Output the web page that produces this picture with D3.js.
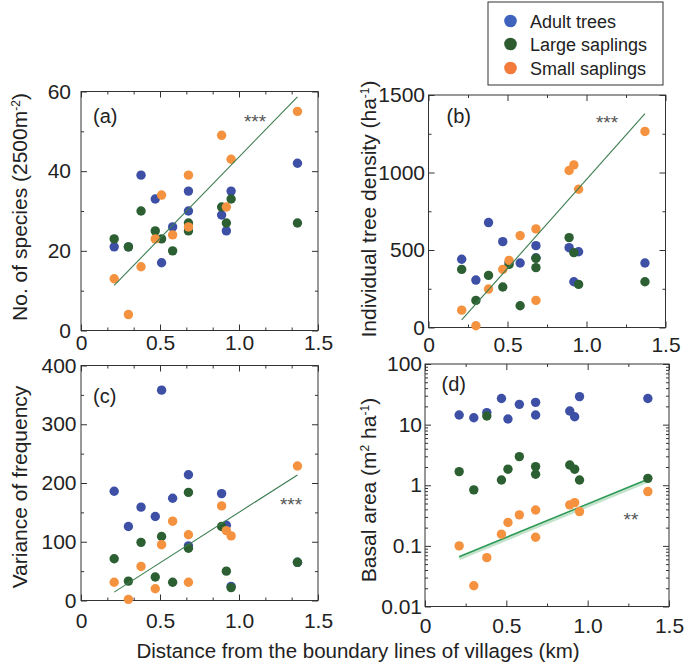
<!DOCTYPE html>
<html>
<head>
<meta charset="utf-8">
<script src="https://cdn.jsdelivr.net/npm/d3@7"></script>
<style>
  html, body { margin: 0; padding: 0; background: #fff; }
  svg text { font-family: "Liberation Sans", Arial, Helvetica, sans-serif; fill: #222; }
</style>
</head>
<body>
<svg id="chart" width="685" height="669"></svg>
<script>
// ---------------- DATA ----------------
const seriesNames = ["Adult trees", "Large saplings", "Small saplings"];
// distance from boundary lines of villages (km), one per site
const distanceKm = [0.21, 0.30, 0.38, 0.47, 0.51, 0.58, 0.68, 0.68, 0.89, 0.92, 0.95, 1.37];

// (a) No. of species (2500 m-2)
const speciesAdult = [21, 21, 39, 33, 17, 26, 35, 30, 29, 25, 35, 42];
const speciesLarge = [23, 21, 30, 25, 23, 20, 27, 25, 31, 27, 33, 27];
const speciesSmall = [13, 4, 16, 23, 34, 24, 39, 26, 49, 31, 43, 55];

// (b) Individual tree density (ha-1)
const densityAdult = [440, 306, 677, 554, 420, 416, 528, 450, 515, 295, 489, 416];
const densityLarge = [375, 175, 336, 261, 407, 140, 446, 386, 580, 483, 278, 295];
const densitySmall = [112, 11, 248, 375, 433, 593, 636, 175, 1013, 1049, 892, 1265];

// (c) Variance of frequency
const varianceAdult = [186, 126, 159, 143, 358, 174, 214, 93, 182, 128, 24, 65];
const varianceLarge = [71, 33, 99, 40, 109, 31, 184, 89, 126, 50, 22, 65];
const varianceSmall = [31, 2, 58, 20, 95, 135, 112, 31, 161, 119, 110, 229];

// (d) Basal area (m2 ha-1)
const basalAdult = [14.4, 13, 15.8, 27, 12.4, 21.6, 23.3, 14.4, 16.8, 13.5, 29, 27];
const basalLarge = [1.68, 0.84, 13.9, 1.22, 1.84, 2.97, 2.03, 1.52, 2.16, 1.84, 1.22, 1.30];
const basalSmall = [0.10, 0.022, 0.064, 0.156, 0.243, 0.325, 0.39, 0.139, 0.474, 0.517, 0.368, 0.787];

// tick labels
const xTicks = [0, 0.5, 1.0, 1.5];
const speciesTicks = [0, 20, 40, 60];
const densityTicks = [0, 500, 1000, 1500];
const varianceTicks = [0, 100, 200, 300, 400];
const basalTicks = [0.01, 0.1, 1, 10, 100];
const significance = ["***", "***", "***", "**"];
const panelLabels = ["(a)", "(b)", "(c)", "(d)"];

// ---------------- STYLE ----------------
const colors = ["#3d50a6", "#2c6033", "#f5923f"];
const legendColors = ["#3f62bd", "#2f5b31", "#f27b3b"];
const svg = d3.select("#chart");

function fit(xs, ys) {
  const n = xs.length;
  const mx = d3.mean(xs), my = d3.mean(ys);
  let sxy = 0, sxx = 0;
  for (let i = 0; i < n; i++) { sxy += (xs[i]-mx)*(ys[i]-my); sxx += (xs[i]-mx)*(xs[i]-mx); }
  const b = sxy / sxx;
  return { a: my - b*mx, b };
}

function panel(cfg) {
  const g = svg.append("g");
  const x = d3.scaleLinear().domain([0, 1.5]).range([cfg.x0, cfg.x1]);
  const y = (cfg.log ? d3.scaleLog() : d3.scaleLinear()).domain(cfg.yDomain).range([cfg.y0, cfg.y1]);

  const clean = s => s.select(".domain").remove();
  const style = s => { s.selectAll("line").attr("stroke", "#333"); s.selectAll("text").attr("font-size", 21).attr("fill", "#222"); };

  // x major / minor bottom
  g.append("g").attr("transform", `translate(0,${cfg.y0})`)
    .call(d3.axisBottom(x).tickValues(xTicks).tickSize(-6).tickPadding(cfg.xPad)
      .tickFormat(d => d === 0 ? "0" : d.toFixed(1)))
    .call(clean).call(style);
  g.append("g").attr("transform", `translate(0,${cfg.y0})`)
    .call(d3.axisBottom(x).tickValues(cfg.xMinor).tickSize(-3).tickFormat(""))
    .call(clean).call(style);
  // top mirror
  g.append("g").attr("transform", `translate(0,${cfg.y1})`)
    .call(d3.axisTop(x).tickValues(xTicks).tickSize(-6).tickFormat(""))
    .call(clean).call(style);
  g.append("g").attr("transform", `translate(0,${cfg.y1})`)
    .call(d3.axisTop(x).tickValues(cfg.xMinor).tickSize(-3).tickFormat(""))
    .call(clean).call(style);
  // y left
  g.append("g").attr("transform", `translate(${cfg.x0},0)`)
    .call(d3.axisLeft(y).tickValues(cfg.yTicks).tickSize(-6).tickPadding(cfg.yPad)
      .tickFormat(d => String(d)))
    .call(clean).call(style);
  g.append("g").attr("transform", `translate(${cfg.x0},0)`)
    .call(d3.axisLeft(y).tickValues(cfg.yMinor).tickSize(-3).tickFormat(""))
    .call(clean).call(style);
  // right mirror
  g.append("g").attr("transform", `translate(${cfg.x1},0)`)
    .call(d3.axisRight(y).tickValues(cfg.yTicks).tickSize(-6).tickFormat(""))
    .call(clean).call(style);
  g.append("g").attr("transform", `translate(${cfg.x1},0)`)
    .call(d3.axisRight(y).tickValues(cfg.yMinor).tickSize(-3).tickFormat(""))
    .call(clean).call(style);

  // frame
  g.append("rect").attr("x", cfg.x0).attr("y", cfg.y1)
    .attr("width", cfg.x1 - cfg.x0).attr("height", cfg.y0 - cfg.y1)
    .attr("fill", "none").attr("stroke", "#333").attr("stroke-width", 1);

  // regression line for small saplings
  const ys = cfg.log ? cfg.series[2].map(v => Math.log10(v)) : cfg.series[2];
  const f = fit(distanceKm, ys);
  const xr = d3.extent(distanceKm);
  const lineData = xr.map(v => [v, cfg.log ? Math.pow(10, f.a + f.b*v) : f.a + f.b*v]);
  const line = d3.line().x(d => x(d[0])).y(d => y(d[1]));
  if (cfg.log) {
    g.append("path").datum(lineData).attr("d", line).attr("transform", "translate(0,1.5)")
      .attr("fill", "none").attr("stroke", "#c4e3cc").attr("stroke-width", 4);
    g.append("path").datum(lineData).attr("d", line)
      .attr("fill", "none").attr("stroke", "#2f9a57").attr("stroke-width", 1.5);
  }

  // points
  cfg.series.forEach((vals, si) => {
    g.append("g").selectAll("circle").data(vals).join("circle")
      .attr("cx", (d, i) => x(distanceKm[i])).attr("cy", d => y(d))
      .attr("r", 4.7).attr("fill", colors[si]);
  });

  if (!cfg.log) {
    g.append("path").datum(lineData).attr("d", line)
      .attr("fill", "none").attr("stroke", "#3b7d50").attr("stroke-width", 1.1);
  }

  // panel label
  g.append("text").attr("x", cfg.lab[0]).attr("y", cfg.lab[1]).attr("font-size", 20).text(cfg.label);
  // significance
  g.append("text").attr("x", cfg.star[0]).attr("y", cfg.star[1]).attr("font-size", 19)
    .attr("text-anchor", "middle").attr("fill", "#555").style("fill", "#555").text(cfg.sig);

  // y title
  const t = g.append("text").attr("transform", `translate(${cfg.tx},${cfg.ty}) rotate(-90)`)
    .attr("text-anchor", "middle").attr("font-size", 21);
  cfg.title.forEach(p => {
    const ts = t.append("tspan").text(p[0]);
    if (p[1]) ts.attr("baseline-shift", "super").attr("font-size", 12);
  });
}

const minorThird = [1,2,4,5,7,8].map(k => k/6);
const minorQuarter = [0.25, 0.75, 1.25];
const logMinor = [];
[0.01, 0.1, 1, 10].forEach(dec => { for (let k = 2; k <= 9; k++) logMinor.push(+(dec*k).toPrecision(3)); });

panel({
  x0: 81, x1: 318, y0: 330.5, y1: 91.5, yDomain: [0, 60],
  yTicks: speciesTicks, yMinor: [10, 30, 50], xMinor: minorThird,
  xPad: 5, yPad: 10,
  series: [speciesAdult, speciesLarge, speciesSmall],
  label: panelLabels[0], lab: [93, 122.5], sig: significance[0], star: [255, 128],
  tx: 27, ty: 207, title: [["No. of species (2500m"], ["-2", true], [")"]]
});
panel({
  x0: 428.5, x1: 665.5, y0: 327.5, y1: 95, yDomain: [0, 1500],
  yTicks: densityTicks, yMinor: [250, 750, 1250], xMinor: minorQuarter,
  xPad: 10, yPad: 3.5,
  series: [densityAdult, densityLarge, densitySmall],
  label: panelLabels[1], lab: [446.5, 122.5], sig: significance[1], star: [607, 129],
  tx: 376, ty: 209, title: [["Individual tree density (ha"], ["-1", true], [")"]]
});
panel({
  x0: 81, x1: 318, y0: 600.5, y1: 365.5, yDomain: [0, 400],
  yTicks: varianceTicks, yMinor: [50, 150, 250, 350], xMinor: minorThird,
  xPad: 12.5, yPad: 4.5,
  series: [varianceAdult, varianceLarge, varianceSmall],
  label: panelLabels[2], lab: [93, 402.5], sig: significance[2], star: [291, 511],
  tx: 27, ty: 487, title: [["Variance of frequency"]]
});
panel({
  x0: 425, x1: 669, y0: 606.5, y1: 364, yDomain: [0.01, 100], log: true,
  yTicks: basalTicks, yMinor: logMinor, xMinor: minorQuarter,
  xPad: 12, yPad: 3,
  series: [basalAdult, basalLarge, basalSmall],
  label: panelLabels[3], lab: [441.5, 391], sig: significance[3], star: [631, 526],
  tx: 376, ty: 490, title: [["Basal area (m"], ["2", true], [" ha"], ["-1", true], [")"]]
});

// x title
svg.append("text").attr("x", 358).attr("y", 658).attr("text-anchor", "middle")
  .attr("font-size", 20.5).text("Distance from the boundary lines of villages (km)");

// legend
const leg = svg.append("g");
leg.append("rect").attr("x", 488).attr("y", 2).attr("width", 175).attr("height", 83)
  .attr("fill", "#fff").attr("stroke", "#333").attr("stroke-width", 1);
const legY = [21, 44, 68];
seriesNames.forEach((n, i) => {
  leg.append("circle").attr("cx", 510.5).attr("cy", legY[i]).attr("r", 6.3).attr("fill", legendColors[i]);
  leg.append("text").attr("x", 530).attr("y", legY[i] + 6.5).attr("font-size", 18).attr("fill", "#333").text(n);
});
</script>
</body>
</html>
